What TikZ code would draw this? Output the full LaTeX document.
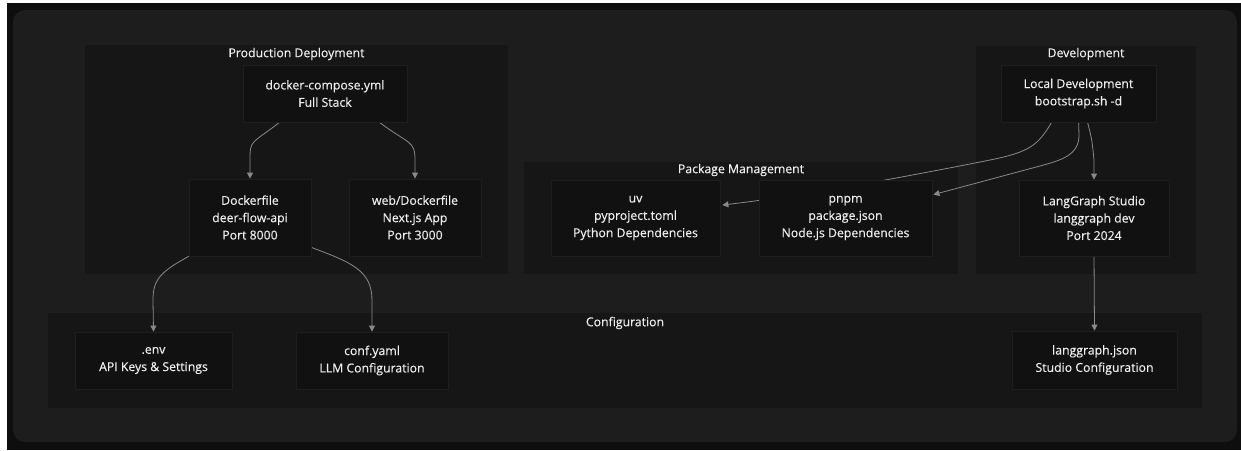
\documentclass[tikz,border=0pt]{standalone}
\usepackage{fontspec}
\setmainfont{Open Sans}
\newfontfamily\dfont[FakeBold=0.3]{Open Sans}
\usetikzlibrary{arrows.meta}
\definecolor{outerbg}{HTML}{0E0E0E}
\definecolor{panel}{HTML}{1D1D1D}
\definecolor{clus}{HTML}{161616}
\definecolor{nodebg}{HTML}{111111}
\definecolor{nodebd}{HTML}{1E1E1E}
\definecolor{edgec}{HTML}{8A8A8A}
\definecolor{txt}{HTML}{EEEEEE}
\pgfdeclarelayer{bg}
\pgfdeclarelayer{edges}
\pgfsetlayers{bg,edges,main}
\tikzset{
  box/.style={draw=nodebd, fill=nodebg, inner sep=0pt, line width=0.6pt, text=txt, align=center, font=\dfont\fontsize{9.2}{13}\selectfont},
  ctitle/.style={text=txt, font=\dfont\fontsize{9.2}{13}\selectfont, inner sep=0pt},
  edge/.style={draw=edgec, line width=0.6pt, -{Triangle[length=4.5pt,width=4.5pt]}},
}
\begin{document}
\begin{tikzpicture}[x=0.75pt,y=-0.75pt]
\useasboundingbox (0,0) rectangle (1241,450);
\begin{pgfonlayer}{bg}
\fill[white] (0,0) rectangle (1241,450);
\fill[outerbg] (7,3) rectangle (1241,450);
\fill[panel, rounded corners=9pt] (13,10) rectangle (1237,442);
\fill[clus] (85,45) rectangle (508,274);
\fill[clus] (524,162) rectangle (958,274);
\fill[clus] (976,46) rectangle (1196,274);
\fill[clus] (48,313) rectangle (1202,408);
\end{pgfonlayer}
% cluster titles
\node[ctitle] (tprod) at (296.5,54) {Production Deployment};
\node[ctitle] (tpkg) at (741,170) {Package Management};
\node[ctitle] (tdev) at (1086,54) {Development};
\node[ctitle] (tconf) at (625,323) {Configuration};
% nodes
\node[box, minimum width=123pt, minimum height=42.75pt] (dc) at (325,93.5) {docker-compose.yml\\Full Stack};
\node[box, minimum width=91.5pt, minimum height=57.75pt] (df) at (250,217.5) {Dockerfile\\deer-flow-api\\Port 8000};
\node[box, minimum width=99pt, minimum height=57.75pt] (web) at (415,217.5) {web/Dockerfile\\Next.js App\\Port 3000};
\node[box, minimum width=117.75pt, minimum height=42.75pt] (env) at (153.5,360.5) {.env\\API Keys \& Settings};
\node[box, minimum width=114pt, minimum height=42.75pt] (conf) at (372,360.5) {conf.yaml\\LLM Configuration};
\node[box, minimum width=123.75pt, minimum height=43.5pt] (lgj) at (1094.5,360) {langgraph.json\\Studio Configuration};
\node[box, minimum width=126.75pt, minimum height=57pt] (uv) at (635.5,218) {uv\\pyproject.toml\\Python Dependencies};
\node[box, minimum width=129.75pt, minimum height=57pt] (pnpm) at (845.5,218) {pnpm\\package.json\\Node.js Dependencies};
\node[box, minimum width=116.25pt, minimum height=42.75pt] (ld) at (1078.5,93.5) {Local Development\\bootstrap.sh -d};
\node[box, minimum width=112.5pt, minimum height=57pt] (lgs) at (1094,218) {LangGraph Studio\\langgraph dev\\Port 2024};
% edges
\begin{pgfonlayer}{edges}
\draw[edge] ([shift={(37,0)}]dc.south west) .. controls ([shift={(8,22)}]dc.south west) and (250,140) .. (250,160) -- (df.north);
\draw[edge] ([shift={(137,0)}]dc.south west) .. controls ([shift={(166,22)}]dc.south west) and (415,140) .. (415,160) -- (web.north);
\draw[edge] (df.south west) .. controls (160,272) and (153,280) .. (153,300) -- (env.north);
\draw[edge] ([shift={(0,-9)}]df.south east) .. controls (350,262) and (372,270) .. (372,300) -- (conf.north);
\draw[edge] ([shift={(87,0)}]ld.south west) .. controls (1092,140) .. (1094,160) -- (lgs.north);
\draw[edge] (lgs.south) -- (lgj.north);
\draw[edge] ([shift={(51,0)}]ld.south west) .. controls (1038,145) and (1030,152) .. (990,160) .. controls (900,178) and (800,196) .. ([shift={(2,-13)}]uv.east);
\draw[edge] ([shift={(78,0)}]ld.south west) -- (1079,135) .. controls (1079,155) and (1062,160) .. (1040,166) -- ([shift={(1,15)}]pnpm.north east);
\end{pgfonlayer}
\end{tikzpicture}
\end{document}
